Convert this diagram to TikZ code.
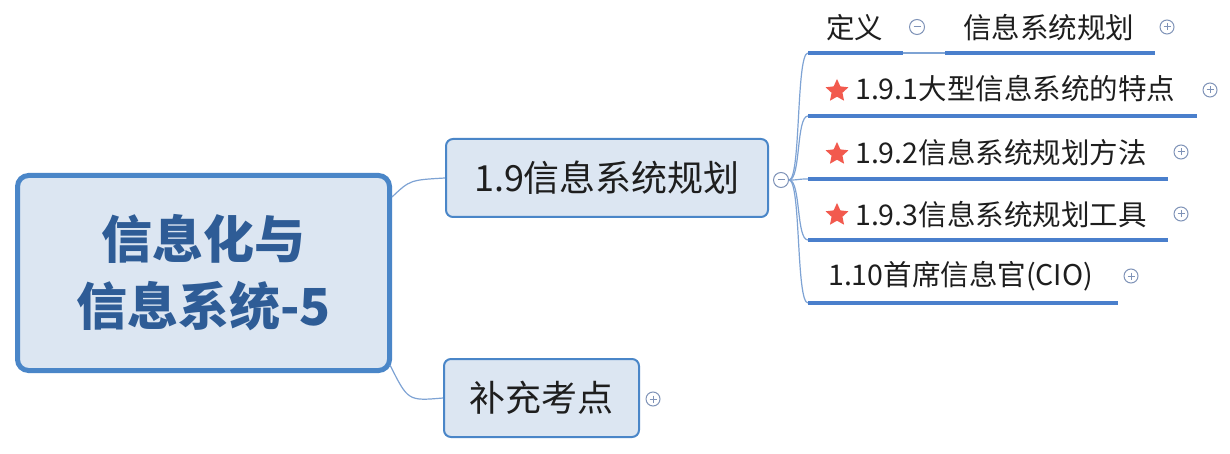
\documentclass[tikz,border=0pt]{standalone}
\usepackage{fontspec}
\setmainfont{Noto Sans CJK SC}
\usetikzlibrary{shapes.geometric,calc}
\definecolor{bord}{HTML}{4A86C8}
\definecolor{fillb}{HTML}{DCE6F2}
\definecolor{roottext}{HTML}{2E5C96}
\definecolor{conn}{HTML}{7EA3D4}
\definecolor{under}{HTML}{4A7FCC}
\definecolor{starc}{HTML}{F25A4E}
\definecolor{iconc}{HTML}{7F93B8}
\definecolor{txt}{HTML}{1E1E1E}
\tikzset{
  rootbox/.style={draw=bord, line width=5pt, fill=fillb, rounded corners=11pt, align=center,
    text=roottext, font=\fontsize{51}{67}\selectfont\bfseries, inner sep=0pt},
  topicbox/.style={draw=bord, line width=2pt, fill=fillb, rounded corners=7pt,
    text=txt, font=\fontsize{36}{40}\selectfont, inner sep=0pt},
  leaf/.style={anchor=west, inner sep=0pt, text=txt, font=\fontsize{28.5}{32}\selectfont},
  conline/.style={draw=conn, line width=1.2pt},
  uline/.style={draw=under, line width=4pt},
  staricon/.style={star, star points=5, star point ratio=2.1, minimum size=24pt, fill=starc, inner sep=0pt},
  plusicon/.style={circle, draw=iconc, line width=1pt, fill=white, minimum size=14pt, inner sep=0pt,
    path picture={\draw[iconc, line width=1pt] ($(path picture bounding box.center)+(-3.5,0)$) -- ($(path picture bounding box.center)+(3.5,0)$);
                  \draw[iconc, line width=1pt] ($(path picture bounding box.center)+(0,-3.5)$) -- ($(path picture bounding box.center)+(0,3.5)$);}},
  minusicon/.style={circle, draw=iconc, line width=1pt, fill=white, minimum size=15pt, inner sep=0pt,
    path picture={\draw[iconc, line width=1pt] ($(path picture bounding box.center)+(-3.5,0)$) -- ($(path picture bounding box.center)+(3.5,0)$);}},
}
\begin{document}
\begin{tikzpicture}[x=1pt,y=-1pt]
\useasboundingbox[fill=white] (0,0) rectangle (1230,454);

% root
\node[rootbox, minimum width=372pt, minimum height=195pt] (root) at (203.5,273) {信息化与\\信息系统-5};

% main topics
\node[topicbox, minimum width=322pt, minimum height=78pt] (n19) at (607,178) {1.9信息系统规划};
\node[topicbox, minimum width=195pt, minimum height=78pt] (nbc) at (541.5,398) {补充考点};

\coordinate (r1) at ([yshift=76pt]root.east);
\coordinate (r2) at ([xshift=-2pt,yshift=-92pt]root.east);
\draw[conline] (r1) .. controls ($(r1)+(18,-17)$) .. (n19.west);
\draw[conline] (r2) .. controls ($(r2)+(18,36)$) .. (nbc.west);

\node[minusicon] (c19) at (781,180) {};
\node[plusicon] (pbc) at (653,399) {};

% underline coordinates
\coordinate (a1) at (808,53);   \coordinate (a2) at (903,53);
\coordinate (b1) at (945,53);   \coordinate (b2) at (1155,53);
\coordinate (d1) at (808,116);  \coordinate (d2) at (1197,116);
\coordinate (e1) at (808,179);  \coordinate (e2) at (1168,179);
\coordinate (f1) at (808,240);  \coordinate (f2) at (1168,240);
\coordinate (g1) at (808,303);  \coordinate (g2) at (1118,303);

% spine connectors
\foreach \t in {a1,d1,e1,f1,g1}
  \draw[conline] (c19.east) .. controls ($(c19.east)+(12,0)$) and ($(\t)+(-12,0)$) .. (\t);
\draw[conline] (a2) -- (b1);

% underlines
\draw[uline] (a1) -- (a2);
\draw[uline] (b1) -- (b2);
\draw[uline] (d1) -- (d2);
\draw[uline] (e1) -- (e2);
\draw[uline] (f1) -- (f2);
\draw[uline] (g1) -- (g2);

% leaf texts
\node[leaf] (t0) at (826,28) {定义};
\node[minusicon] (m0) at (917,27) {};
\node[leaf] (t1) at (963,28) {信息系统规划};
\node[plusicon] (p1) at (1167,27) {};

\node[staricon] (s1) at (837,91) {};
\node[leaf] (t2) at (855,89) {1.9.1大型信息系统的特点};
\node[plusicon] (p2) at (1210,90) {};

\node[staricon] (s2) at (837,154) {};
\node[leaf] (t3) at (855,153) {1.9.2信息系统规划方法};
\node[plusicon] (p3) at (1181,152) {};

\node[staricon] (s3) at (837,215) {};
\node[leaf] (t4) at (855,215) {1.9.3信息系统规划工具};
\node[plusicon] (p4) at (1181,214) {};

\node[leaf] (t5) at (828,276) {1.10首席信息官(CIO)};
\node[plusicon] (p5) at (1131,276) {};
\end{tikzpicture}
\end{document}
